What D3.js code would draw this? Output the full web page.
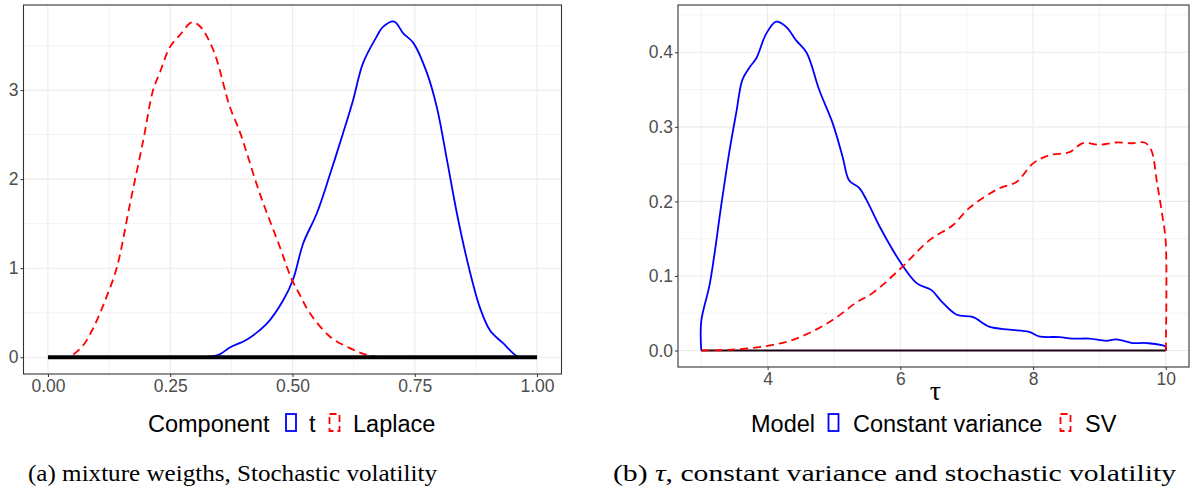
<!DOCTYPE html>
<html><head><meta charset="utf-8">
<script src="https://cdn.jsdelivr.net/npm/d3@7"></script>
<style>body{margin:0;background:#fff}svg{display:block}</style>
</head><body>
<svg id="c" width="1193" height="492"></svg>
<script>
// ---- Data ----
const laplaceX = [0.00,0.04,0.07,0.09,0.106,0.12,0.141,0.168,0.195,0.215,0.229,0.249,0.27,0.294,0.31,0.338,0.372,0.393,0.433,0.474,0.498,0.515,0.536,0.577,0.618,0.65,0.68];
const laplaceY = [0,0,0.12,0.3,0.49,0.68,1.01,1.73,2.44,3.0,3.2,3.48,3.62,3.76,3.72,3.45,2.81,2.52,1.84,1.24,0.88,0.70,0.49,0.23,0.1,0.03,0];
const tX = [0.31,0.35,0.372,0.407,0.448,0.481,0.501,0.522,0.55,0.577,0.603,0.624,0.644,0.672,0.685,0.708,0.726,0.747,0.775,0.795,0.816,0.836,0.857,0.883,0.904,0.93,0.959,0.97];
const tY = [0,0.03,0.11,0.2,0.38,0.64,0.87,1.28,1.62,2.06,2.51,2.89,3.30,3.6,3.71,3.77,3.64,3.53,3.19,2.81,2.21,1.62,1.09,0.56,0.30,0.16,0.01,0];

const cvX = [3,3,3.13,3.31,3.43,3.53,3.62,3.73,3.83,3.98,4.13,4.28,4.43,4.59,4.78,4.98,5.13,5.23,5.38,5.49,5.69,5.99,6.25,6.47,6.62,6.85,7.09,7.34,7.64,7.94,8.09,8.4,8.59,8.85,9.1,9.25,9.5,9.71,10,10];
const cvY = [0,0.039,0.09,0.2,0.27,0.32,0.363,0.38,0.392,0.425,0.441,0.434,0.416,0.399,0.349,0.305,0.26,0.228,0.218,0.202,0.166,0.12,0.09,0.081,0.066,0.048,0.045,0.032,0.028,0.025,0.019,0.018,0.016,0.016,0.013,0.015,0.01,0.01,0.005,0];
const svX = [3,3.43,3.98,4.37,4.73,5.03,5.33,5.58,5.98,6.44,6.79,7.0,7.15,7.5,7.75,8.0,8.25,8.55,8.75,9.0,9.25,9.5,9.68,9.78,9.87,9.95,10,10];
const svY = [0,0.001,0.006,0.014,0.028,0.044,0.064,0.077,0.108,0.148,0.168,0.188,0.199,0.218,0.226,0.251,0.262,0.266,0.278,0.276,0.279,0.278,0.279,0.269,0.224,0.18,0.145,0];

const leftXTicks = [0,0.25,0.5,0.75,1];
const leftXTickLabels = ["0.00","0.25","0.50","0.75","1.00"];
const leftYTicks = [0,1,2,3];
const rightXTicks = [4,6,8,10];
const rightYTicks = [0,0.1,0.2,0.3,0.4];
const rightYTickLabels = ["0.0","0.1","0.2","0.3","0.4"];

const svg = d3.select("#c");
const SANS = "'Liberation Sans', Arial, Helvetica, sans-serif";
const SERIF = "'Liberation Serif', 'Times New Roman', serif";

function panel(opts){
  const {x, y, xMinor, yMinor, xTicks, xLabels, yTicks, yLabels} = opts;
  const g = svg.append("g");
  const [x0,x1] = x.range(), [y0,y1] = y.range();
  // grid
  const grid = g.append("g");
  xMinor.forEach(v=>grid.append("line").attr("x1",x(v)).attr("x2",x(v)).attr("y1",y0).attr("y2",y1).attr("stroke","#ebebeb").attr("stroke-width",0.6));
  yMinor.forEach(v=>grid.append("line").attr("y1",y(v)).attr("y2",y(v)).attr("x1",x0).attr("x2",x1).attr("stroke","#ebebeb").attr("stroke-width",0.6));
  xTicks.forEach(v=>grid.append("line").attr("x1",x(v)).attr("x2",x(v)).attr("y1",y0).attr("y2",y1).attr("stroke","#ebebeb").attr("stroke-width",1.1));
  yTicks.forEach(v=>grid.append("line").attr("y1",y(v)).attr("y2",y(v)).attr("x1",x0).attr("x2",x1).attr("stroke","#ebebeb").attr("stroke-width",1.1));
  // axes
  const ax = g.append("g").attr("transform",`translate(0,${y0})`)
    .call(d3.axisBottom(x).tickValues(xTicks).tickSize(3).tickPadding(3).tickFormat((d,i)=>xLabels[i]));
  const ay = g.append("g").attr("transform",`translate(${x0},0)`)
    .call(d3.axisLeft(y).tickValues(yTicks).tickSize(3).tickPadding(2).tickFormat((d,i)=>yLabels[i]));
  [ax,ay].forEach(a=>{
    a.select(".domain").remove();
    a.selectAll(".tick line").attr("stroke","#333333").attr("stroke-width",1);
    a.selectAll(".tick text").attr("fill","#4d4d4d").style("font-family",SANS).style("font-size","17.5px");
  });
  return g;
}

// ---- Left panel ----
const xL = d3.scaleLinear().domain([-0.05,1.05]).range([23.5,561.5]);
const yL = d3.scaleLinear().domain([-0.1884,3.9555]).range([374,5]);
const gL = panel({x:xL,y:yL,xMinor:[0.125,0.375,0.625,0.875],yMinor:[0.5,1.5,2.5,3.5],
  xTicks:leftXTicks,xLabels:leftXTickLabels,yTicks:leftYTicks,yLabels:leftYTicks.map(String)});
const lineL = d3.line().x(d=>xL(d[0])).y(d=>yL(d[1])).curve(d3.curveCatmullRom.alpha(0.5));
gL.append("path").attr("d",lineL(d3.zip(tX,tY))).attr("fill","none").attr("stroke","#0000ff").attr("stroke-width",1.8);
gL.append("path").attr("d",lineL(d3.zip(laplaceX,laplaceY))).attr("fill","none").attr("stroke","#ff0000").attr("stroke-width",1.8).attr("stroke-dasharray","8,5");
gL.append("line").attr("x1",xL(0)).attr("x2",xL(1)).attr("y1",yL(0)).attr("y2",yL(0)).attr("stroke","#000").attr("stroke-width",4);
gL.append("rect").attr("x",23.5).attr("y",5).attr("width",538).attr("height",369).attr("fill","none").attr("stroke","#333333").attr("stroke-width",1.1);

// ---- Right panel ----
const xR = d3.scaleLinear().domain([2.65,10.35]).range([678,1189]);
const yR = d3.scaleLinear().domain([-0.0221,0.4634]).range([367,5]);
const gR = panel({x:xR,y:yR,xMinor:[3,5,7,9],yMinor:[0.05,0.15,0.25,0.35,0.45],
  xTicks:rightXTicks,xLabels:rightXTicks.map(String),yTicks:rightYTicks,yLabels:rightYTickLabels});
const lineR = d3.line().x(d=>xR(d[0])).y(d=>yR(d[1])).curve(d3.curveCatmullRom.alpha(0.5));
gR.append("line").attr("x1",xR(3)).attr("x2",xR(10)).attr("y1",yR(0)).attr("y2",yR(0)).attr("stroke","#1a0010").attr("stroke-width",2);
gR.append("path").attr("d",lineR(d3.zip(cvX,cvY))).attr("fill","none").attr("stroke","#0000ff").attr("stroke-width",1.8);
gR.append("path").attr("d",lineR(d3.zip(svX,svY))).attr("fill","none").attr("stroke","#ff0000").attr("stroke-width",1.8).attr("stroke-dasharray","8,5");
gR.append("rect").attr("x",678).attr("y",5).attr("width",511).attr("height",362).attr("fill","none").attr("stroke","#333333").attr("stroke-width",1.1);
svg.append("text").attr("x",935.5).attr("y",400).attr("text-anchor","middle")
  .style("font-family",SERIF).style("font-size","28px").attr("fill","#000").text("τ");

// ---- Legends ----
function legendText(x,t){ svg.append("text").attr("x",x).attr("y",432).style("font-family",SANS).style("font-size","23.5px").attr("fill","#000").text(t); }
function key(x,color,dashed){
  svg.append("rect").attr("x",x).attr("y",414).attr("width",10).attr("height",17)
    .attr("fill","#fff").attr("stroke",color).attr("stroke-width",1.8)
    .attr("stroke-dasharray",dashed?"7,4":null);
}
legendText(148,"Component"); key(286,"#0000ff",false); legendText(309,"t"); key(329.5,"#ff0000",true); legendText(353,"Laplace");
legendText(751,"Model"); key(828.5,"#0000ff",false); legendText(853,"Constant variance"); key(1060.5,"#ff0000",true); legendText(1085,"SV");

// ---- Captions ----
svg.append("text").attr("x",28).attr("y",481).attr("textLength",409).attr("lengthAdjust","spacingAndGlyphs")
  .style("font-family",SERIF).style("font-size","24px").attr("fill","#000")
  .text("(a) mixture weigths, Stochastic volatility");
const cb = svg.append("text").attr("x",613).attr("y",481).attr("textLength",563).attr("lengthAdjust","spacingAndGlyphs")
  .style("font-family",SERIF).style("font-size","24px").attr("fill","#000");
cb.append("tspan").text("(b) ");
cb.append("tspan").style("font-style","italic").text("τ");
cb.append("tspan").text(", constant variance and stochastic volatility");
</script>
</body></html>
